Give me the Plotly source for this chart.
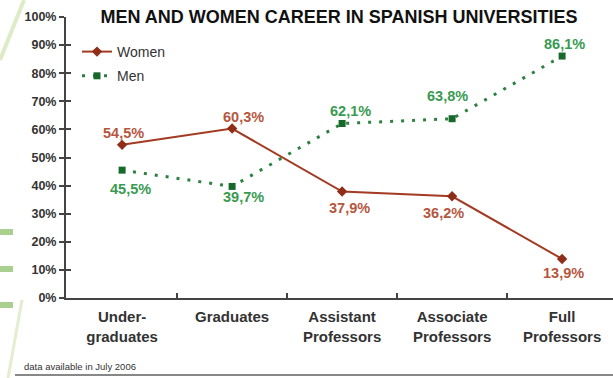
import plotly.graph_objects as go

categories = ["Under-<br>graduates", "Graduates", "Assistant<br>Professors", "Associate<br>Professors", "Full<br>Professors"]
women = [54.5, 60.3, 37.9, 36.2, 13.9]
men = [45.5, 39.7, 62.1, 63.8, 86.1]
y_ticks = [0, 10, 20, 30, 40, 50, 60, 70, 80, 90, 100]
y_ticktext = [f"{v}%" for v in y_ticks]

# label offsets (px) for the data labels
women_off = [(1, 12), (11, 12), (7, -16), (-9, -17), (1, -14)]
men_off = [(8, -19), (11, -11), (8, 13), (-5, 23), (2, 12)]

W_LINE = "#A33A22"
W_MARK = "#8E2E18"
W_TEXT = "#B5573F"
M_LINE = "#2E8040"
M_MARK = "#17692B"
M_TEXT = "#3A9A52"
FONT = "Arial, Liberation Sans, sans-serif"

xs = list(range(len(categories)))

W, H = 613, 378
L, R, T, B = 66, 0, 17, 80
pw, ph = W - L - R, H - T - B


def px(xp):
    return (xp - L) / pw


def py(yp):
    return (H - B - yp) / ph


fig = go.Figure()
fig.add_trace(go.Scatter(
    x=xs, y=women, name="Women", mode="lines+markers", legendgroup="w",
    line=dict(color=W_LINE, width=2),
    marker=dict(symbol="diamond", size=8, color=W_MARK),
))
fig.add_trace(go.Scatter(
    x=xs, y=men, name="Men", mode="lines+markers", legendgroup="m",
    line=dict(color=M_LINE, width=3, dash="3px,8px"),
    marker=dict(symbol="square", size=7, color=M_MARK),
))
# dummy traces so overlay axes (double-sided ticks) are drawn
fig.add_trace(go.Scatter(x=[None], y=[None], xaxis="x2", yaxis="y", showlegend=False, hoverinfo="skip"))
fig.add_trace(go.Scatter(x=[None], y=[None], xaxis="x", yaxis="y2", showlegend=False, hoverinfo="skip"))

ann = []
for vals, offs, col in ((women, women_off, W_TEXT), (men, men_off, M_TEXT)):
    for i, (v, (dx, dy)) in enumerate(zip(vals, offs)):
        ann.append(dict(x=i, y=v, xref="x", yref="y", text=f"{v:.1f}%".replace(".", ","),
                        showarrow=False, xshift=dx, yshift=dy,
                        font=dict(family=FONT, size=14.5, color=col, weight="bold")))
ann.append(dict(x=px(22), y=py(366), xref="paper", yref="paper",
                text="data available in July 2006",
                showarrow=False, xanchor="left", yanchor="middle",
                font=dict(family=FONT, size=9.5, color="#333333")))

xr = [-0.51, -0.51 + pw / 110]
font_axis = dict(family=FONT, color="#333333")

shapes = [dict(type="line", xref="paper", yref="paper",
               x0=px(15), x1=1.0, y0=py(375), y1=py(375),
               line=dict(color="#888888", width=2))]
# faint decorative swooshes on the left edge
for yc in (232, 269, 305):
    shapes.append(dict(type="rect", xref="paper", yref="paper", layer="below",
                       x0=px(0), x1=px(13), y0=py(yc - 3), y1=py(yc + 3),
                       line=dict(width=0), fillcolor="#A9D08E"))
shapes.append(dict(type="line", xref="paper", yref="paper", layer="below",
                   x0=px(0), y0=py(60), x1=px(24), y1=py(0),
                   line=dict(color="#DDEBC8", width=4)))
shapes.append(dict(type="line", xref="paper", yref="paper", layer="below",
                   x0=px(8), y0=py(378), x1=px(22), y1=py(300),
                   line=dict(color="#E3EDCF", width=3)))

fig.update_layout(
    width=W, height=H,
    margin=dict(l=L, r=R, t=T, b=B, autoexpand=False),
    paper_bgcolor="white", plot_bgcolor="rgba(0,0,0,0)",
    title=dict(text="<b>MEN AND WOMEN CAREER IN SPANISH UNIVERSITIES</b>",
               x=339 / W, xanchor="center", xref="container",
               y=1 - 17 / H, yanchor="middle", yref="container",
               font=dict(family=FONT, size=18, color="#111111")),
    xaxis=dict(range=xr, tickvals=xs, ticktext=[f"<b>{c}</b>" for c in categories],
               showline=True, linecolor="#444444", linewidth=2, ticks="",
               showgrid=False, zeroline=False, automargin=False,
               ticklabelstandoff=4,
               tickfont=dict(size=15, **font_axis)),
    xaxis2=dict(range=xr, overlaying="x", anchor="y", side="bottom",
                tickvals=[0.5, 1.5, 2.5, 3.5], ticktext=["", "", "", ""],
                ticks="inside", ticklen=5, tickwidth=1.5, tickcolor="#444444",
                showline=False, showgrid=False, zeroline=False, automargin=False),
    yaxis=dict(range=[0, 100], tickvals=y_ticks, ticktext=[f"<b>{t}</b>" for t in y_ticktext],
               showline=True, linecolor="#444444", linewidth=2,
               ticks="outside", ticklen=5, tickwidth=1.5, tickcolor="#444444",
               showgrid=False, zeroline=False, automargin=False,
               tickfont=dict(size=12.5, **font_axis)),
    yaxis2=dict(range=[0, 100], overlaying="y", anchor="x", side="left",
                tickvals=y_ticks, ticktext=[""] * len(y_ticks),
                ticks="inside", ticklen=5, tickwidth=1.5, tickcolor="#444444",
                showline=False, showgrid=False, zeroline=False, automargin=False),
    legend=dict(x=px(77), y=py(36), xanchor="left", yanchor="top",
                bgcolor="rgba(0,0,0,0)", traceorder="grouped", tracegroupgap=3,
                itemwidth=30,
                font=dict(family=FONT, size=14, color="#333333")),
    annotations=ann,
    shapes=shapes,
    showlegend=True,
)

fig.write_html("out.html", config={"displayModeBar": False},
               post_script="document.body.style.margin='0';document.body.style.overflow='hidden';")
